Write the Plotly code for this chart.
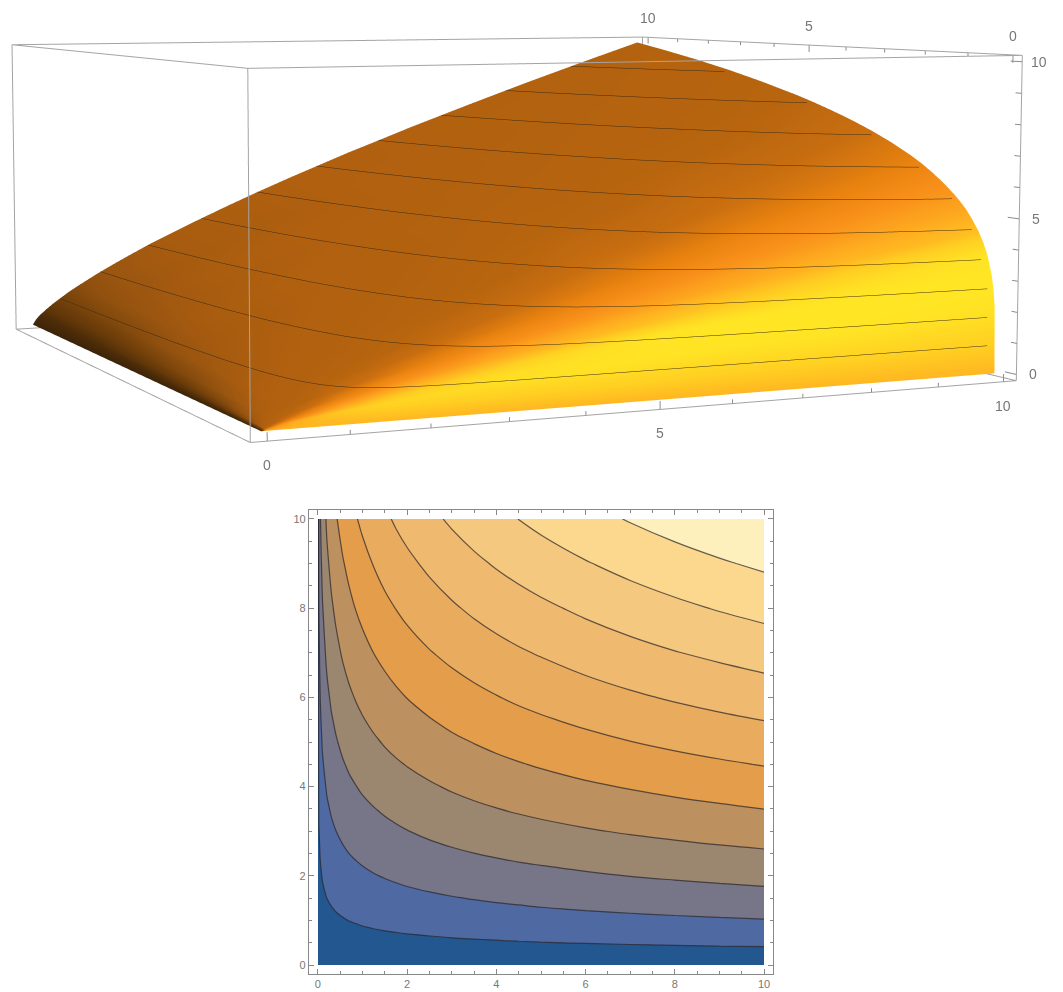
import numpy as np
import plotly.graph_objects as go

xs=[0,.02,.05,.1,.2,.3,.4,.55,.7,.85,1,1.25,1.5,1.75,2,2.5,3,3.5,4,4.5,5,6,7,8,9,10]
ys=[0,.05,.1,.2,.3,.4,.55,.7,.85,1,1.25,1.5,1.75,2,2.5,3,3.5,4,4.5,5,5.5,6,7,8,9,10]
# contour table: one row per y, one column per x. The 3D panel shows the same table with its axes exchanged.
z_values=[
[0]*26,
[0,.04,.05,.06,.07,.08,.08,.09,.10,.10,.11,.11,.12,.12,.13,.13,.14,.14,.15,.15,.16,.17,.17,.18,.18,.19],
[0,.07,.08,.10,.12,.13,.14,.15,.16,.17,.18,.19,.20,.20,.21,.22,.23,.24,.25,.26,.27,.28,.29,.30,.31,.32],
[0,.11,.14,.17,.20,.22,.24,.26,.27,.29,.30,.32,.33,.34,.36,.38,.39,.41,.42,.44,.45,.47,.49,.50,.52,.53],
[0,.15,.19,.23,.27,.30,.32,.35,.37,.39,.41,.43,.45,.47,.48,.51,.53,.55,.57,.59,.61,.63,.66,.68,.70,.72],
[0,.19,.24,.28,.34,.37,.40,.43,.46,.48,.50,.53,.56,.58,.60,.63,.66,.69,.71,.73,.75,.79,.82,.85,.87,.89],
[0,.24,.30,.36,.43,.47,.51,.55,.58,.61,.64,.68,.71,.73,.76,.80,.84,.87,.90,.93,.96,1.00,1.04,1.07,1.11,1.14],
[0,.29,.36,.43,.51,.57,.61,.66,.70,.73,.77,.81,.85,.88,.91,.96,1.01,1.05,1.08,1.11,1.14,1.20,1.24,1.29,1.33,1.36],
[0,.33,.42,.50,.59,.65,.70,.76,.81,.85,.89,.94,.98,1.02,1.05,1.11,1.16,1.21,1.25,1.29,1.32,1.39,1.44,1.49,1.53,1.57],
[0,.38,.47,.56,.67,.74,.80,.86,.92,.96,1,1.06,1.11,1.15,1.19,1.26,1.32,1.37,1.41,1.46,1.50,1.57,1.63,1.68,1.73,1.78],
[0,.44,.56,.66,.79,.87,.94,1.02,1.08,1.13,1.18,1.25,1.31,1.36,1.41,1.49,1.56,1.62,1.67,1.72,1.77,1.85,1.92,1.99,2.05,2.10],
[0,.51,.64,.76,.91,1.00,1.08,1.17,1.24,1.30,1.36,1.43,1.50,1.56,1.61,1.70,1.78,1.85,1.92,1.97,2.03,2.12,2.20,2.28,2.35,2.41],
[0,.57,.72,.86,1.02,1.13,1.21,1.31,1.39,1.46,1.52,1.61,1.68,1.75,1.81,1.91,2.00,2.08,2.15,2.22,2.28,2.38,2.48,2.56,2.64,2.71],
[0,.63,.80,.95,1.13,1.24,1.34,1.45,1.54,1.61,1.68,1.78,1.86,1.93,2.00,2.11,2.21,2.30,2.38,2.45,2.51,2.63,2.74,2.83,2.91,2.99],
[0,.75,.94,1.12,1.33,1.47,1.58,1.71,1.82,1.91,1.99,2.10,2.20,2.29,2.36,2.50,2.62,2.72,2.81,2.90,2.97,3.11,3.23,3.34,3.44,3.53],
[0,.86,1.08,1.28,1.53,1.69,1.81,1.96,2.09,2.19,2.28,2.41,2.52,2.62,2.71,2.87,3.00,3.12,3.22,3.32,3.41,3.57,3.71,3.83,3.95,4.05],
[0,.96,1.21,1.44,1.71,1.89,2.03,2.20,2.34,2.46,2.56,2.70,2.83,2.94,3.04,3.22,3.37,3.50,3.62,3.73,3.83,4.00,4.16,4.30,4.43,4.55],
[0,1.06,1.34,1.59,1.89,2.09,2.25,2.43,2.59,2.71,2.83,2.99,3.13,3.25,3.36,3.55,3.72,3.87,4.00,4.12,4.23,4.43,4.60,4.76,4.90,5.03],
[0,1.16,1.46,1.74,2.07,2.29,2.46,2.66,2.83,2.97,3.09,3.27,3.42,3.55,3.67,3.88,4.07,4.23,4.37,4.50,4.62,4.84,5.03,5.20,5.35,5.49],
[0,1.26,1.58,1.88,2.24,2.47,2.66,2.88,3.06,3.21,3.34,3.53,3.70,3.85,3.98,4.20,4.40,4.57,4.73,4.87,5.00,5.23,5.44,5.62,5.79,5.95],
[0,1.35,1.70,2.02,2.40,2.66,2.85,3.09,3.29,3.45,3.59,3.80,3.98,4.13,4.27,4.51,4.73,4.91,5.08,5.23,5.37,5.62,5.84,6.04,6.22,6.38],
[0,1.44,1.81,2.15,2.56,2.84,3.05,3.30,3.51,3.68,3.83,4.05,4.24,4.41,4.56,4.82,5.05,5.24,5.42,5.59,5.73,6.00,6.24,6.45,6.64,6.82],
[0,1.62,2.04,2.42,2.88,3.18,3.42,3.71,3.94,4.13,4.30,4.55,4.76,4.95,5.12,5.41,5.66,5.89,6.09,6.27,6.43,6.74,7.00,7.24,7.45,7.65],
[0,1.79,2.25,2.67,3.18,3.52,3.78,4.10,4.35,4.57,4.76,5.03,5.27,5.47,5.66,5.98,6.26,6.51,6.73,6.93,7.11,7.44,7.74,8.00,8.24,8.46],
[0,1.95,2.46,2.92,3.48,3.85,4.13,4.47,4.75,4.99,5.20,5.49,5.75,5.98,6.18,6.53,6.84,7.11,7.35,7.57,7.77,8.13,8.45,8.74,9.00,9.24],
[0,2.11,2.66,3.16,3.76,4.16,4.47,4.84,5.15,5.40,5.62,5.94,6.22,6.47,6.69,7.07,7.40,7.69,7.95,8.19,8.41,8.80,9.15,9.46,9.74,10.0],
]
# colour of the 3D surface as seen in the reference, on a coarser grid (rows: 3D y, columns: 3D x)
shade_x=[0,.05,.1,.2,.4,.7,1,1.5,2,3,4,5,6,7,8,9,10]
shade_y=[0,.02,.05,.1,.2,.4,.7,1,1.5,2,3,4,5,6,7,8,9,10]
shade=[
[.05,.75,.8,.8,.8,.8,.8,.8,.8,.8,.8,.8,.8,.8,.8,.8,.8],
[.05,.5,.59,.68,.76,.82,.86,.9,.92,.95,.97,.98,.98,.99,.99,.98,.97],
[.05,.45,.47,.55,.65,.72,.77,.84,.88,.94,.96,.98,1,1,1,1,1],
[.05,.44,.45,.47,.55,.64,.7,.76,.8,.87,.93,.98,1,1,1,1,1],
[.05,.42,.44,.45,.47,.53,.59,.66,.7,.76,.8,.83,.87,.9,.93,.95,.98],
[.05,.39,.42,.44,.45,.46,.5,.54,.59,.66,.7,.73,.76,.78,.8,.81,.83],
[.05,.34,.4,.43,.44,.45,.46,.48,.51,.56,.61,.65,.68,.7,.72,.74,.75],
[.05,.3,.38,.42,.44,.445,.45,.46,.47,.51,.55,.59,.62,.65,.67,.69,.7],
[.05,.25,.33,.4,.43,.44,.445,.45,.46,.47,.5,.53,.55,.58,.6,.62,.64],
[.05,.22,.3,.38,.42,.43,.44,.445,.45,.46,.47,.5,.51,.53,.55,.57,.59],
[.05,.18,.25,.33,.4,.42,.43,.44,.445,.45,.46,.465,.47,.49,.5,.51,.53],
[.05,.15,.22,.3,.38,.41,.42,.43,.44,.445,.45,.46,.46,.465,.47,.48,.5],
[.05,.13,.2,.27,.36,.4,.42,.43,.44,.445,.45,.45,.455,.46,.46,.465,.47],
[.05,.12,.18,.25,.33,.39,.41,.42,.43,.44,.445,.45,.45,.455,.46,.46,.465],
[.05,.11,.16,.23,.31,.38,.4,.42,.43,.44,.44,.445,.45,.45,.455,.46,.46],
[.05,.1,.15,.22,.3,.37,.39,.41,.42,.43,.44,.445,.445,.45,.45,.455,.46],
[.05,.1,.14,.21,.28,.36,.385,.41,.42,.43,.44,.44,.445,.45,.45,.45,.455],
[.05,.1,.13,.2,.27,.34,.38,.4,.42,.43,.44,.44,.445,.445,.45,.45,.45],
]
levels=dict(start=.909,end=9.091,size=.909)
band_colors=["#22578f","#4f6aa3","#777689","#9b8670","#bc905f","#e49d4a","#e9ac5f","#efb96f","#f4c87e","#fbd88e","#fdf0bc"]
surf_scale=[[0,"#33200a"],[.15,"#4f2d08"],[.27,"#73410a"],[.38,"#985410"],[.44,"#b0600f"],[.52,"#c86e10"],[.6,"#e8820f"],[.68,"#f8901a"],[.78,"#ffb020"],[.88,"#ffcf22"],[.96,"#ffe024"],[1,"#ffe524"]]
lo,hi=-.2,10.2
scene_lo,scene_hi=-.3,10.3
tick_steps=list(range(0,11))
labelled=[0,5,10]

# 3D panel: same table with x and y exchanged
x3,y3=ys,xs
z3=np.array(z_values).T
tmp=np.array([np.interp(x3,shade_x,row) for row in shade])
shade_fine=np.array([np.interp(y3,shade_y,tmp[:,j]) for j in range(len(x3))]).T

# page is larger than the window so the 45-degree lens of the scene gives the reference's long-focus view
FIG_W,FIG_H,OFF_X,OFF_Y=1222,2127,159,876
grow=(scene_hi-scene_lo)/(hi-lo)

fig=go.Figure()
fig.add_trace(go.Surface(x=x3,y=y3,z=z3,surfacecolor=shade_fine,cmin=0,cmax=1,colorscale=surf_scale,showscale=False,
    lighting=dict(ambient=1,diffuse=0,specular=0,fresnel=0),
    contours=dict(z=dict(show=True,start=levels["start"],end=levels["end"],size=levels["size"],color="#3c2c14",width=2))))
ex,ey,ez=[],[],[]
for a in (lo,hi):
    for b in (lo,hi):
        ex+=[a,a,None];ey+=[b,b,None];ez+=[lo,hi,None]
        ex+=[a,a,None];ey+=[lo,hi,None];ez+=[b,b,None]
        ex+=[lo,hi,None];ey+=[a,a,None];ez+=[b,b,None]
fig.add_trace(go.Scatter3d(x=ex,y=ey,z=ez,mode="lines",line=dict(color="#a4a4a4",width=2),showlegend=False,hoverinfo="skip"))
tx,ty,tz=[],[],[]
for t in tick_steps:
    l=.25 if t%5==0 else .13
    tx+=[t,t,None];ty+=[lo,lo,None];tz+=[lo,lo+l,None]
    tx+=[hi,hi,None];ty+=[t,t,None];tz+=[hi,hi-l,None]
    tx+=[hi,hi,None];ty+=[lo,lo+l,None];tz+=[t,t,None]
fig.add_trace(go.Scatter3d(x=tx,y=ty,z=tz,mode="lines",line=dict(color="#8c8c8c",width=2),showlegend=False,hoverinfo="skip"))
lab=dict(size=14,color="#777",family="Liberation Sans")
ann=[]
for t in labelled:
    ann.append(dict(x=t,y=lo,z=lo,text=str(t),showarrow=False,yshift=-24,font=lab))
    ann.append(dict(x=hi,y=t,z=hi,text=str(t),showarrow=False,yshift=19,font=lab))
    ann.append(dict(x=hi,y=lo,z=t,text=str(t),showarrow=False,xshift=17,font=lab))
fig.add_trace(go.Contour(x=xs,y=ys,z=z_values,autocontour=False,contours=dict(coloring="fill",showlines=True,**levels),
    colorscale=[[i/10,c] for i,c in enumerate(band_colors)],showscale=False,
    line=dict(color="rgba(40,35,40,.7)",width=1.2,smoothing=1.0)))
axis=dict(range=[lo,hi],dtick=2,tick0=0,ticks="inside",ticklen=5,tickcolor="#888",linecolor="#888",linewidth=1.2,mirror="ticks",showline=True,
    showgrid=False,zeroline=False,tickfont=dict(size=11,color="#777",family="Liberation Sans"),
    minor=dict(dtick=.5,ticks="inside",ticklen=3,tickcolor="#888",showgrid=False))
fig.update_layout(width=FIG_W,height=FIG_H,margin=dict(l=0,r=0,t=0,b=0),paper_bgcolor="white",plot_bgcolor="white",showlegend=False,
    font=dict(family="Liberation Sans"),
    xaxis=dict(domain=[(309+OFF_X)/FIG_W,(773+OFF_X)/FIG_W],**axis),
    yaxis=dict(domain=[(FIG_H-974-OFF_Y)/FIG_H,(FIG_H-510-OFF_Y)/FIG_H],**axis),
    scene=dict(domain=dict(x=[0,1],y=[0,1]),bgcolor="rgba(0,0,0,0)",aspectmode="manual",aspectratio=dict(x=.3401*grow,y=.3260*grow,z=.1360*grow),
        camera=dict(eye=dict(x=-.4862,y=-1.0327,z=.1028),center=dict(x=.3410,y=.7805,z=-.0652),up=dict(x=1.0044,y=2.2013,z=1),projection=dict(type="perspective")),
        xaxis=dict(visible=False,range=[scene_lo,scene_hi]),yaxis=dict(visible=False,range=[scene_lo,scene_hi]),zaxis=dict(visible=False,range=[scene_lo,scene_hi]),annotations=ann))
fig.write_html("out.html",config=dict(displayModeBar=False),
    post_script="document.documentElement.style.overflow='hidden';document.body.style.margin='0';document.body.style.overflow='hidden';var g=document.querySelector('.plotly-graph-div');g.style.position='absolute';g.style.left='-%dpx';g.style.top='-%dpx';"%(OFF_X,OFF_Y))
